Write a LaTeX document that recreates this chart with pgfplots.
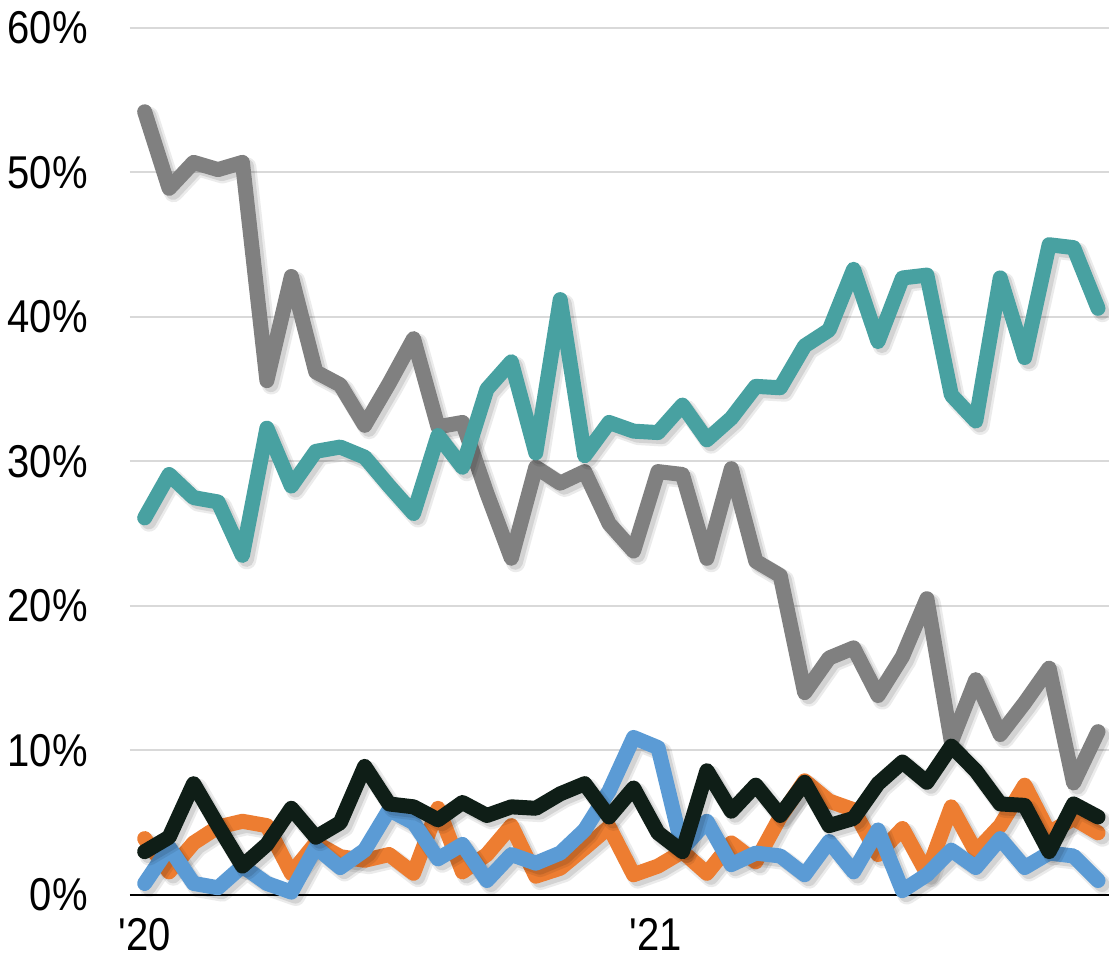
\documentclass[border=0pt]{standalone}
\usepackage{pgfplots}
\pgfplotsset{compat=1.18}
\usepackage{pgfplotstable}
\usepackage{fontspec}
\setmainfont{Liberation Sans}

\definecolor{cgray}{HTML}{808080}
\definecolor{cteal}{HTML}{48A1A1}
\definecolor{corange}{HTML}{ED7D31}
\definecolor{cblue}{HTML}{5B9BD5}
\definecolor{cblack}{HTML}{0F1E17}

% shares (%) per period, 40 periods
\pgfplotstableread{
i  gray  teal  orange blue  black
0  54.2  26.1  3.9   0.8   3.0
1  48.9  29.1  1.6   3.3   4.0
2  50.7  27.5  3.6   0.8   7.7
3  50.2  27.2  4.7   0.5   4.8
4  50.7  23.5  5.1   2.0   2.0
5  35.6  32.3  4.8   0.8   3.5
6  42.8  28.3  1.5   0.2   6.0
7  36.2  30.7  3.6   3.3   4.0
8  35.3  31.0  2.65  1.9   5.0
9  32.5  30.3  2.4   3.1   8.9
10 35.4  28.3  2.8   5.9   6.3
11 38.5  26.4  1.5   5.0   6.1
12 32.4  31.8  6.0   2.5   5.2
13 32.7  29.6  1.6   3.5   6.4
14 27.8  35.0  2.8   1.0   5.5
15 23.3  36.9  4.8   2.8   6.1
16 29.6  30.6  1.3   2.2   6.0
17 28.5  41.2  1.85  2.9   7.0
18 29.3  30.4  3.25  4.5   7.7
19 25.7  32.7  4.7   7.2   5.4
20 23.8  32.1  1.4   10.9  7.4
21 29.3  32.0  2.0   10.2  4.3
22 29.1  33.9  3.0   3.2   3.0
23 23.3  31.5  1.5   5.1   8.6
24 29.5  33.0  3.6   2.1   5.8
25 23.1  35.2  2.3   2.9   7.6
26 22.1  35.1  5.4   2.7   5.5
27 14.0  38.0  7.9   1.4   7.8
28 16.4  39.1  6.5   3.7   4.8
29 17.1  43.3  5.9   1.6   5.3
30 13.8  38.3  2.8   4.5   7.7
31 16.5  42.7  4.6   0.3   9.2
32 20.5  42.9  1.5   1.4   7.8
33 10.6  34.6  6.1   3.1   10.3
34 14.9  32.8  3.0   1.9   8.6
35 11.1  42.7  4.8   3.9   6.3
36 13.3  37.2  7.6   1.9   6.2
37 15.7  45.0  4.3   2.9   3.0
38 7.75  44.8  5.3   2.7   6.3
39 11.3  40.6  4.3   1.0   5.4
}\shares

% one series: soft drop shadow, then the line itself
\newcommand\series[2]{%
  \addplot[draw=black, opacity=0.08, line width=9.5pt, line join=round, line cap=round,
    transform canvas={xshift=2.2pt,yshift=-2.2pt}, forget plot] table[x=i,y=#1]{\shares};
  \addplot[draw=black, opacity=0.10, line width=7.5pt, line join=round, line cap=round,
    transform canvas={xshift=2pt,yshift=-2pt}, forget plot] table[x=i,y=#1]{\shares};
  \addplot[draw=#2, line width=7.5pt, line join=round, line cap=round] table[x=i,y=#1]{\shares};
}

\begin{document}
\begin{tikzpicture}
\begin{axis}[
  name=ax,
  scale only axis,
  width=489.5pt, height=433.5pt,
  xmin=-0.6, xmax=39.45,
  ymin=0, ymax=60,
  clip=false,
  axis x line*=bottom, axis y line*=left,
  y axis line style={draw=none},
  x axis line style={line width=1pt, black},
  tick style={draw=none},
  ytick={0,10,...,60},
  yticklabels={0\%,10\%,20\%,30\%,40\%,50\%,60\%},
  xtick={0,20.9},
  xticklabels={\textquotesingle20,\textquotesingle21},
  ymajorgrids,
  major grid style={draw=gray!30, line width=1pt},
  ticklabel style={font=\fontsize{20}{24}\selectfont, inner sep=0pt, yscale=1.15},
  yticklabel style={anchor=east, xshift=-21pt},
  xticklabel style={anchor=north, yshift=-10pt},
]
\series{gray}{cgray}
\series{teal}{cteal}
\series{orange}{corange}
\series{blue}{cblue}
\series{black}{cblack}
\end{axis}
\pgfresetboundingbox
\path ([shift={(-65pt,-32pt)}]ax.south west) rectangle ([shift={(0pt,14pt)}]ax.north east);
\end{tikzpicture}
\end{document}
